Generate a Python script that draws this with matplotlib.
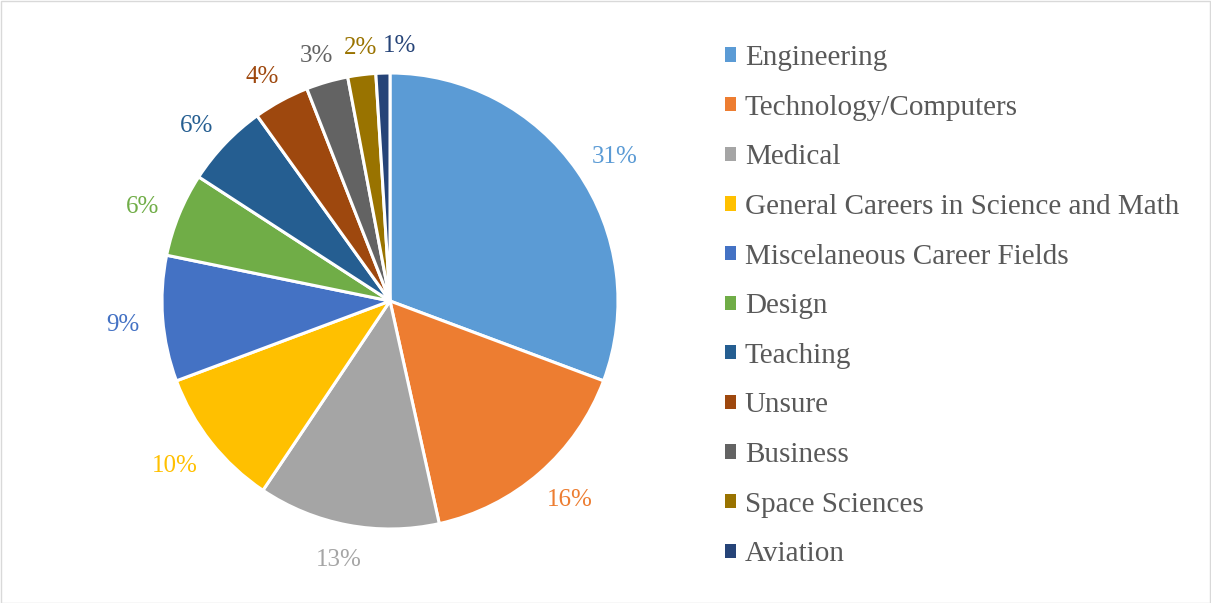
import numpy as np
import matplotlib
matplotlib.use("Agg")
import matplotlib.pyplot as plt
from matplotlib.patches import Patch, Rectangle

plt.rcParams['font.family'] = ['Liberation Serif', 'DejaVu Serif']

categories = ["Engineering", "Technology/Computers", "Medical",
              "General Careers in Science and Math", "Miscelaneous Career Fields",
              "Design", "Teaching", "Unsure", "Business", "Space Sciences", "Aviation"]
shares = [31, 16, 13, 10, 9, 6, 6, 4, 3, 2, 1]
colors = ["#5B9BD5", "#ED7D31", "#A5A5A5", "#FFC000", "#4472C4", "#70AD47",
          "#255E91", "#9E480E", "#636363", "#997300", "#264478"]
# horizontal nudges (px) that keep the crowded labels at the top apart
label_nudge = [0, 0, 0, 0, 0, 0, 0, 0, 0, 4, 18]

W, H = 1211, 603
fig = plt.figure(figsize=(W / 100, H / 100), dpi=100)

cx, cy, r = 390, 301, 228
ax = fig.add_axes([(cx - r) / W, (H - cy - r) / H, 2 * r / W, 2 * r / H])
wedges, _ = ax.pie(shares, colors=colors, startangle=90, counterclock=False,
                   wedgeprops=dict(edgecolor="white", linewidth=2.2))
ax.set_xlim(-1, 1)
ax.set_ylim(-1, 1)
ax.set_aspect("equal")
ax.axis("off")

# percentage labels outside the slice ends, with a fixed gap from the rim
renderer = fig.canvas.get_renderer()
gap = 23 / r
for w, v, c, dx in zip(wedges, shares, colors, label_nudge):
    ang = np.deg2rad((w.theta1 + w.theta2) / 2)
    t = ax.text(0, 0, f"{v}%", color=c, fontsize=18, ha="center", va="center")
    bb = t.get_window_extent(renderer)
    hw, hh = bb.width / 2 / r, 16 / 2 / r
    x = np.cos(ang) * (1 + gap) + hw * np.cos(ang) + dx / r
    y = np.sin(ang) * (1 + gap) + hh * np.sin(ang) - 4 / r
    t.set_position((x, y))

handles = [Patch(facecolor=c, edgecolor="none") for c in colors]
fig.legend(handles, categories, loc="upper left", bbox_to_anchor=(725 / W, 1 - 45 / H),
           frameon=False, fontsize=21, borderpad=0, borderaxespad=0,
           handlelength=0.38, handleheight=0.38,
           handletextpad=0.3, labelspacing=0.81, labelcolor="#595959")

fig.add_artist(Rectangle((0.5 / W, 0.5 / H), 1 - 1.5 / W, 1 - 1.5 / H,
                         transform=fig.transFigure, fill=False,
                         edgecolor="#D9D9D9", linewidth=1))

fig.savefig("out.png", dpi=100)
